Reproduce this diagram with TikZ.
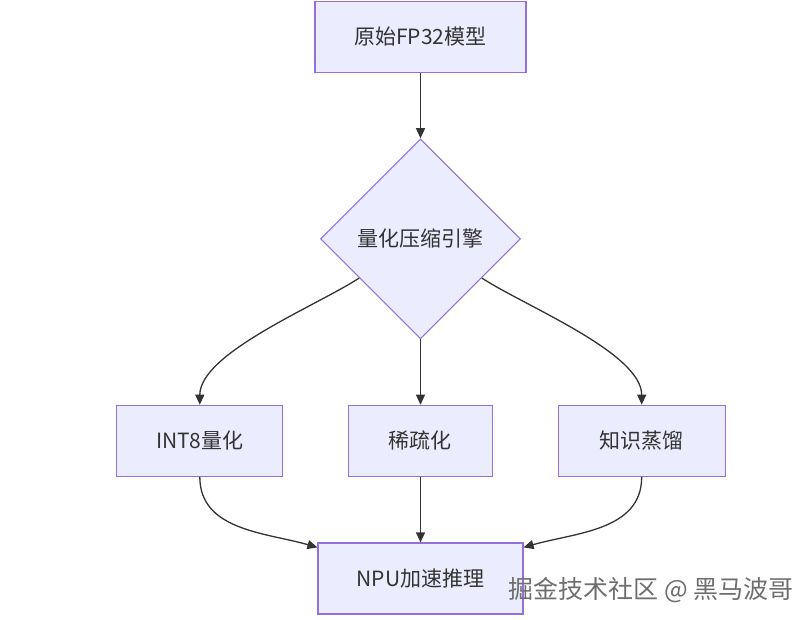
\documentclass[tikz,border=0pt]{standalone}
\usepackage{fontspec}
\setmainfont{Noto Sans CJK SC}
\usetikzlibrary{matrix,shapes.geometric,arrows.meta,calc}

\definecolor{boxfill}{HTML}{ECECFF}
\definecolor{boxline}{HTML}{9370DB}
\definecolor{edgecol}{HTML}{333333}
\definecolor{markcol}{HTML}{6E6E6E}

\tikzset{
    box/.style={draw=boxline, fill=boxfill, line width=1.2pt, anchor=center,
        minimum height=71pt, inner sep=0pt},
    decision/.style={diamond, aspect=1, draw=boxline, fill=boxfill, line width=1.2pt,
        anchor=center, minimum width=200pt, minimum height=200pt, inner sep=0pt},
    flow/.style={draw=edgecol, line width=1.3pt, -{Triangle[length=10pt,width=9pt]}},
}

\begin{document}
\begin{tikzpicture}[x=1pt, y=1pt]
    \useasboundingbox (0,0) rectangle (812,-620);
    % Define matrix
        \matrix (m) [matrix of nodes, row sep=65.5pt, column sep=31pt, inner sep=0pt,
            anchor=north, nodes={font=\fontsize{21}{25}\selectfont, text=edgecol}] at (421,-0.6)
        {
            & |[box, minimum width=211pt]| 原始FP32模型 & \\
            & |[decision]| 量化压缩引擎 & \\
            |[box, minimum width=166pt]| INT8量化 & |[box, minimum width=144pt]| 稀疏化 & |[box, minimum width=167pt]| 知识蒸馏 \\
            & |[box, minimum width=205pt]| NPU加速推理 & \\
        };
        % Draw arrows
        \draw[flow] (m-1-2) -- (m-2-2);
        \draw[flow] ($(m-2-2.west)!0.39!(m-2-2.south)$) to[out=213, in=90, looseness=0.65] (m-3-1.north);
        \draw[flow] (m-2-2) -- (m-3-2);
        \draw[flow] ($(m-2-2.east)!0.39!(m-2-2.south)$) to[out=-33, in=90, looseness=0.65] (m-3-3.north);
        \draw[flow] (m-3-1.south) to[out=-90, in=164] ($(m-4-2.north west)+(0,-5)$);
        \draw[flow] (m-3-2) -- (m-4-2);
        \draw[flow] (m-3-3.south) to[out=-90, in=16] ($(m-4-2.north east)+(0,-5)$);
        % Watermark
        \node[font=\fontsize{25}{29}\selectfont, text=markcol, anchor=west] (mark) at (505,-590) {掘金技术社区 @ 黑马波哥};
    \end{tikzpicture}
\end{document}
